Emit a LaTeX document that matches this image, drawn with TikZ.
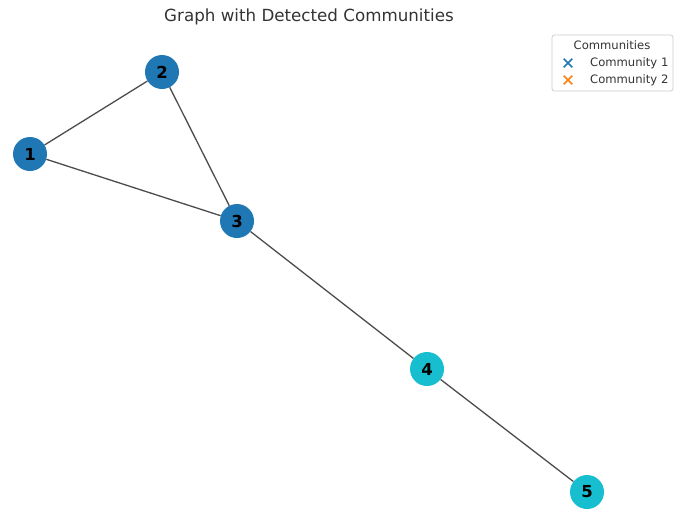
\documentclass[tikz,border=0pt]{standalone}
\usepackage{fontspec}
\setmainfont{DejaVu Sans}
\usetikzlibrary{positioning, shapes.misc}

\definecolor{commA}{HTML}{1F77B4}
\definecolor{commB}{HTML}{17BECF}
\definecolor{markB}{HTML}{FF7F0E}
\definecolor{txtgray}{HTML}{333333}

\begin{document}
\begin{tikzpicture}[%
		x=1pt, y=-1pt,
		vertex/.style={
			circle,
			minimum size=34pt,
			inner sep=0pt,
			font=\fontsize{16.5}{18}\selectfont\bfseries
		},
		comm1/.style={
			vertex,
			fill=commA
		},
		comm2/.style={
			vertex,
			fill=commB
		},
		edge/.style={
			line width=1.3pt,
			black!70
		},
		legbox/.style={
			rectangle,
			rounded corners=2.5pt,
			draw=black!20,
			line width=0.8pt,
			fill=white
		},
		legtext/.style={
			anchor=west,
			inner sep=0pt,
			text=txtgray,
			font=\fontsize{11.6}{14}\selectfont
		},
		legmark/.style={
			cross out,
			draw,
			line width=1.6pt,
			minimum size=7pt,
			inner sep=0pt
		}]

		\useasboundingbox (0,0) rectangle (675,509);

		% TITLE

		\node (title) [text=txtgray, font=\fontsize{16.7}{19}\selectfont] at (309,17) {Graph with Detected Communities};

		% NODES

		\node (n1) [comm1] at (30,154) {1};
		\node (n2) [comm1] at (162,72) {2};
		\node (n3) [comm1] at (237,221) {3};
		\node (n4) [comm2] at (427,369) {4};
		\node (n5) [comm2] at (587,492) {5};

		% EDGES

		\draw[edge] (n1) -- (n2);
		\draw[edge] (n1) -- (n3);
		\draw[edge] (n2) -- (n3);
		\draw[edge] (n3) -- (n4);
		\draw[edge] (n4) -- (n5);

		% LEGEND

		\draw[legbox] (552,35) rectangle (673,91);
		\node (legtitle) [text=txtgray, inner sep=0pt, font=\fontsize{11.6}{14}\selectfont] at (612,45) {Communities};
		\node (mark1) [legmark, draw=commA] at (568,63) {};
		\node (mark2) [legmark, draw=markB] at (568,80) {};
		\node (lab1) [legtext] at (590,63) {Community 1};
		\node (lab2) [legtext] at (590,80) {Community 2};
\end{tikzpicture}
\end{document}
